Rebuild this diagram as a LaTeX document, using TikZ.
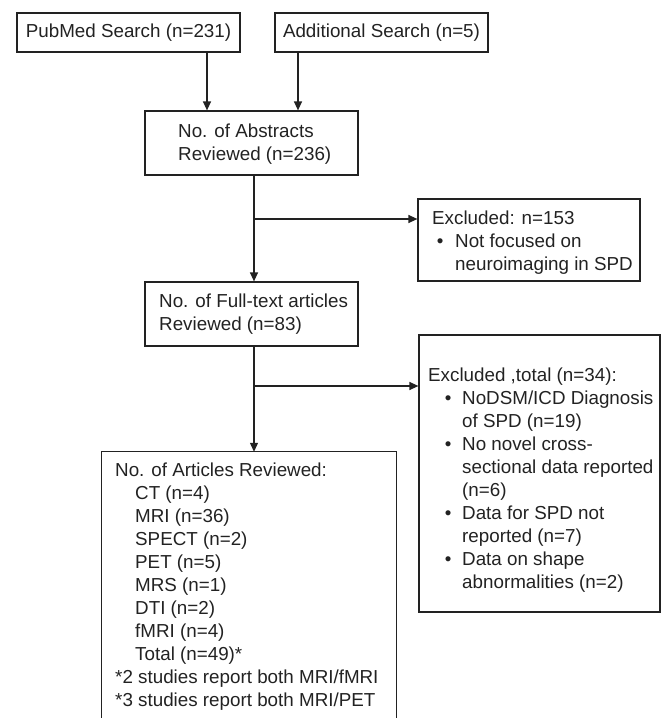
\documentclass[tikz,border=0pt]{standalone}
\usepackage{fontspec}
\setmainfont{Liberation Sans}
\usetikzlibrary{arrows.meta}
\definecolor{ink}{HTML}{222222}
\tikzset{
  box/.style={draw=ink, line width=1.2pt, inner sep=0pt, rectangle},
  frame/.style={inner sep=0pt, rectangle},
  txt/.style={inner sep=0pt, anchor=base west, text=ink},
  ctxt/.style={inner sep=0pt, text=ink},
  conn/.style={draw=ink, line width=1.2pt},
  arr/.style={conn, -{Triangle[length=9pt,width=8pt]}}
}
\newcommand{\bulA}{\makebox[23pt][l]{\hspace*{4.7pt}\textbullet}}
\newcommand{\bulB}{\makebox[34pt][l]{\hspace*{16.7pt}\textbullet}}
\begin{document}
\begin{tikzpicture}[x=1pt,y=-1pt,font=\fontsize{18.8}{23}\selectfont]
\useasboundingbox (0,0) rectangle (669,718);
% boxes
\node[box, minimum width=223pt, minimum height=39pt] (pub) at (128.5,32.5) {};
\node[ctxt] (pubt) at (pub.center) {PubMed Search (n=231)};
\node[box, minimum width=213pt, minimum height=39pt] (add) at (381.5,32.5) {};
\node[ctxt] (addt) at (add.center) {Additional Search (n=5)};
\node[box, minimum width=213pt, minimum height=64pt] (abs) at (251.5,143) {};
\node[txt] (abst) at (178,137) {\parbox[t]{200pt}{No. of Abstracts\\Reviewed (n=236)}};
\node[box, minimum width=222pt, minimum height=82pt] (ex1) at (529,240) {};
\node[txt] (ex1t) at (432,224) {\parbox[t]{220pt}{Excluded: n=153\\\bulA Not focused on\\\hspace*{23pt}neuroimaging in SPD}};
\node[box, minimum width=213pt, minimum height=64pt] (full) at (251.5,314) {};
\node[txt] (fullt) at (159,307) {\parbox[t]{200pt}{No. of Full-text articles\\Reviewed (n=83)}};
\node[box, minimum width=241pt, minimum height=277pt] (ex2) at (539.5,473.5) {};
\node[txt] (ex2t) at (428,381) {\parbox[t]{240pt}{Excluded ,total (n=34):\\
\bulB NoDSM/ICD Diagnosis\\\hspace*{34pt}of SPD (n=19)\\
\bulB No novel cross-\\\hspace*{34pt}sectional data reported\\\hspace*{34pt}(n=6)\\
\bulB Data for SPD not\\\hspace*{34pt}reported (n=7)\\
\bulB Data on shape\\\hspace*{34pt}abnormalities (n=2)}};
\node[frame, minimum width=294pt, minimum height=266pt] (rev) at (249,585) {};
\draw[conn] (rev.south west) -- (rev.north west) -- (rev.north east) -- (rev.south east);
\node[txt] (revt) at (115,476) {\parbox[t]{280pt}{No. of Articles Reviewed:\\
\hspace*{20pt}CT (n=4)\\\hspace*{20pt}MRI (n=36)\\\hspace*{20pt}SPECT (n=2)\\
\hspace*{20pt}PET (n=5)\\\hspace*{20pt}MRS (n=1)\\\hspace*{20pt}DTI (n=2)\\
\hspace*{20pt}fMRI (n=4)\\\hspace*{20pt}Total (n=49)*\\
{}*2 studies report both MRI/fMRI\\
{}*3 studies report both MRI/PET}};
% connectors
\coordinate (c1) at (207,0);
\coordinate (c2) at (298,0);
\coordinate (c3) at (254,219);
\coordinate (c4) at (254,386);
\draw[arr] (pub.south -| c1) -- (abs.north -| c1);
\draw[arr] (add.south -| c2) -- (abs.north -| c2);
\draw[arr] (abs.south -| c3) -- (full.north -| c3);
\draw[arr] (c3) -- (ex1.west |- c3);
\draw[arr] (full.south -| c4) -- (rev.north -| c4);
\draw[arr] (c4) -- (ex2.west |- c4);
\end{tikzpicture}
\end{document}
